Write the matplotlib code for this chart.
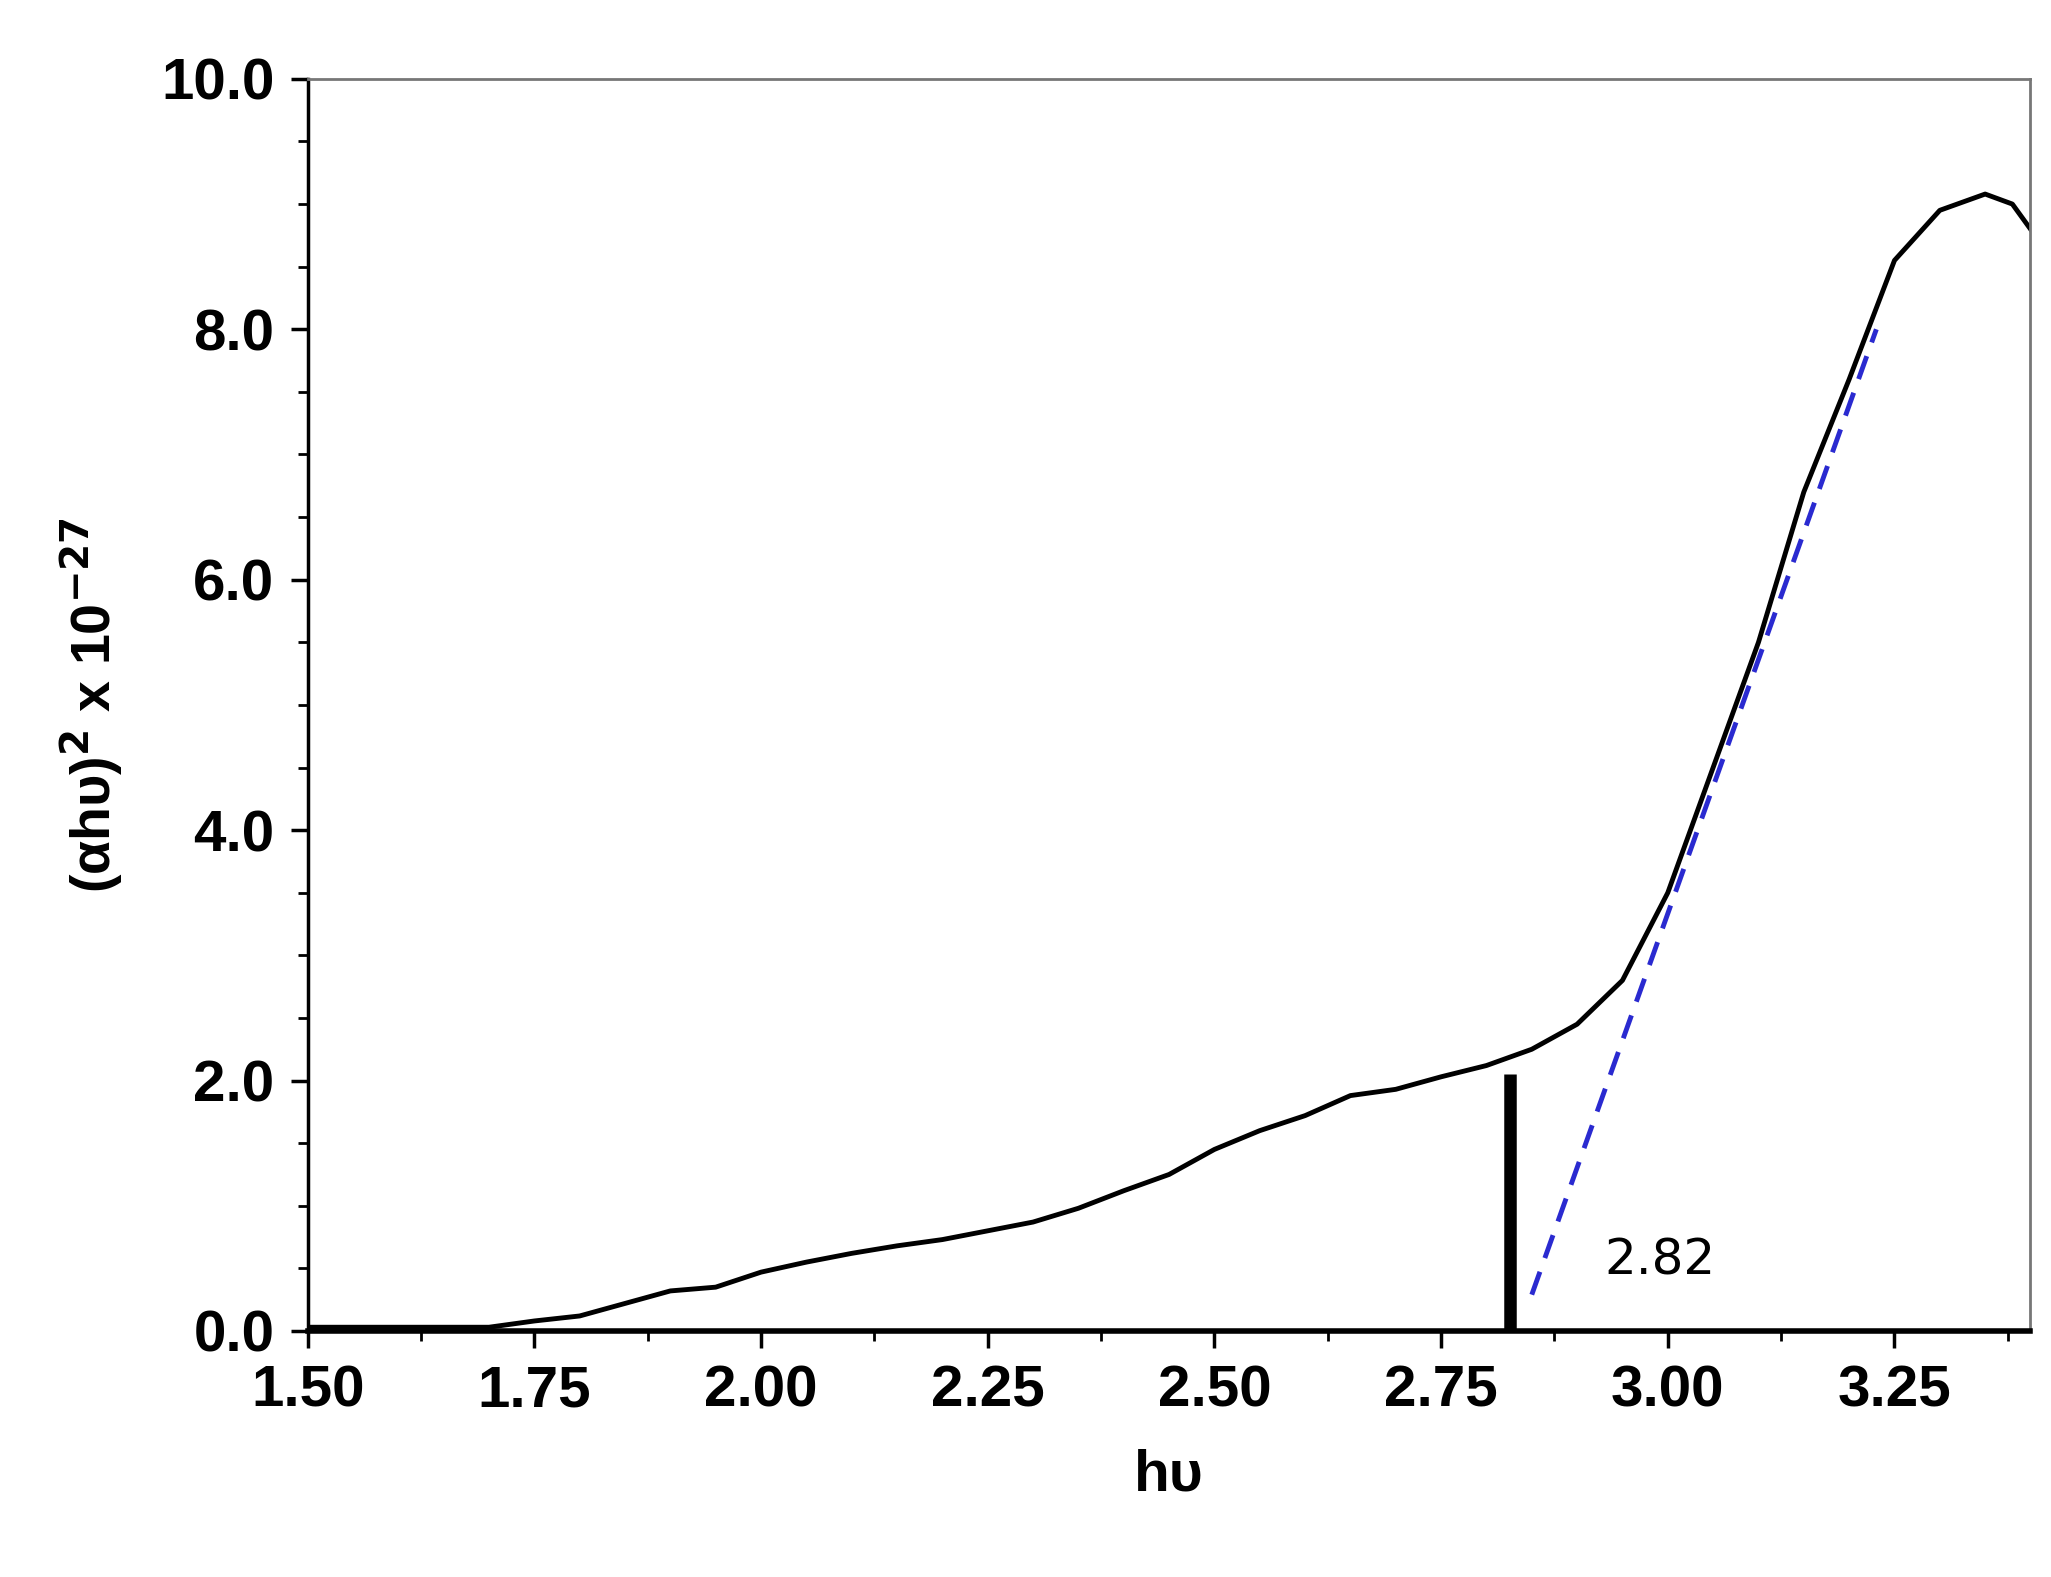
import matplotlib
matplotlib.use("Agg")
import matplotlib.pyplot as plt
from matplotlib.ticker import MultipleLocator, FormatStrFormatter

hv = [1.50,1.60,1.70,1.75,1.80,1.85,1.90,1.95,2.00,2.05,2.10,2.15,2.20,2.25,2.30,2.35,2.40,2.45,2.50,2.55,2.60,2.65,2.70,2.75,2.80,2.85,2.90,2.95,3.00,3.05,3.10,3.15,3.20,3.25,3.30,3.35,3.38,3.40]
ahv2 = [0.03,0.03,0.03,0.08,0.12,0.22,0.32,0.35,0.47,0.55,0.62,0.68,0.73,0.80,0.87,0.98,1.12,1.25,1.45,1.60,1.72,1.88,1.93,2.03,2.12,2.25,2.45,2.80,3.50,4.50,5.50,6.70,7.60,8.55,8.95,9.08,9.00,8.80]
fit_x = [2.85, 3.23]
fit_y = [0.29, 8.0]
gap_x = 2.826
gap_top = 2.05

plt.rcParams['font.family'] = ['Liberation Sans', 'DejaVu Sans']
fig = plt.figure(figsize=(20.51, 15.77), dpi=100)
ax = fig.add_axes([0.150, 0.156, 0.840, 0.794])
ax.plot(hv, ahv2, color='black', lw=3.5)
ax.plot(fit_x, fit_y, color='#2a2ad0', lw=3.5, ls=(0, (5, 3)))
ax.vlines(gap_x, 0, gap_top, color='black', lw=9)
ax.text(2.93, 0.45, '2.82', fontsize=36, family='DejaVu Sans')
ax.set_xlim(1.5, 3.40)
ax.set_ylim(0, 10)
ax.xaxis.set_major_locator(MultipleLocator(0.25))
ax.xaxis.set_minor_locator(MultipleLocator(0.125))
ax.yaxis.set_major_locator(MultipleLocator(2))
ax.yaxis.set_minor_locator(MultipleLocator(0.5))
ax.xaxis.set_major_formatter(FormatStrFormatter('%.2f'))
ax.yaxis.set_major_formatter(FormatStrFormatter('%.1f'))
ax.tick_params(which='major', length=12, width=2.5, labelsize=42, pad=12)
ax.tick_params(which='minor', length=7, width=2)
for l in ax.get_xticklabels() + ax.get_yticklabels():
    l.set_fontweight('bold')
for s in ['top', 'right']:
    ax.spines[s].set_color('#777777')
    ax.spines[s].set_linewidth(2)
ax.spines['bottom'].set_linewidth(4)
ax.spines['left'].set_linewidth(2.5)
ax.set_xlabel('hυ', fontsize=42, fontweight='bold', labelpad=22)
ax.set_ylabel('(αhυ)$^{\\mathbf{2}}$ x 10$^{\\mathbf{-27}}$', fontsize=40, fontweight='bold', labelpad=25)
fig.savefig('out.png', dpi=100)
